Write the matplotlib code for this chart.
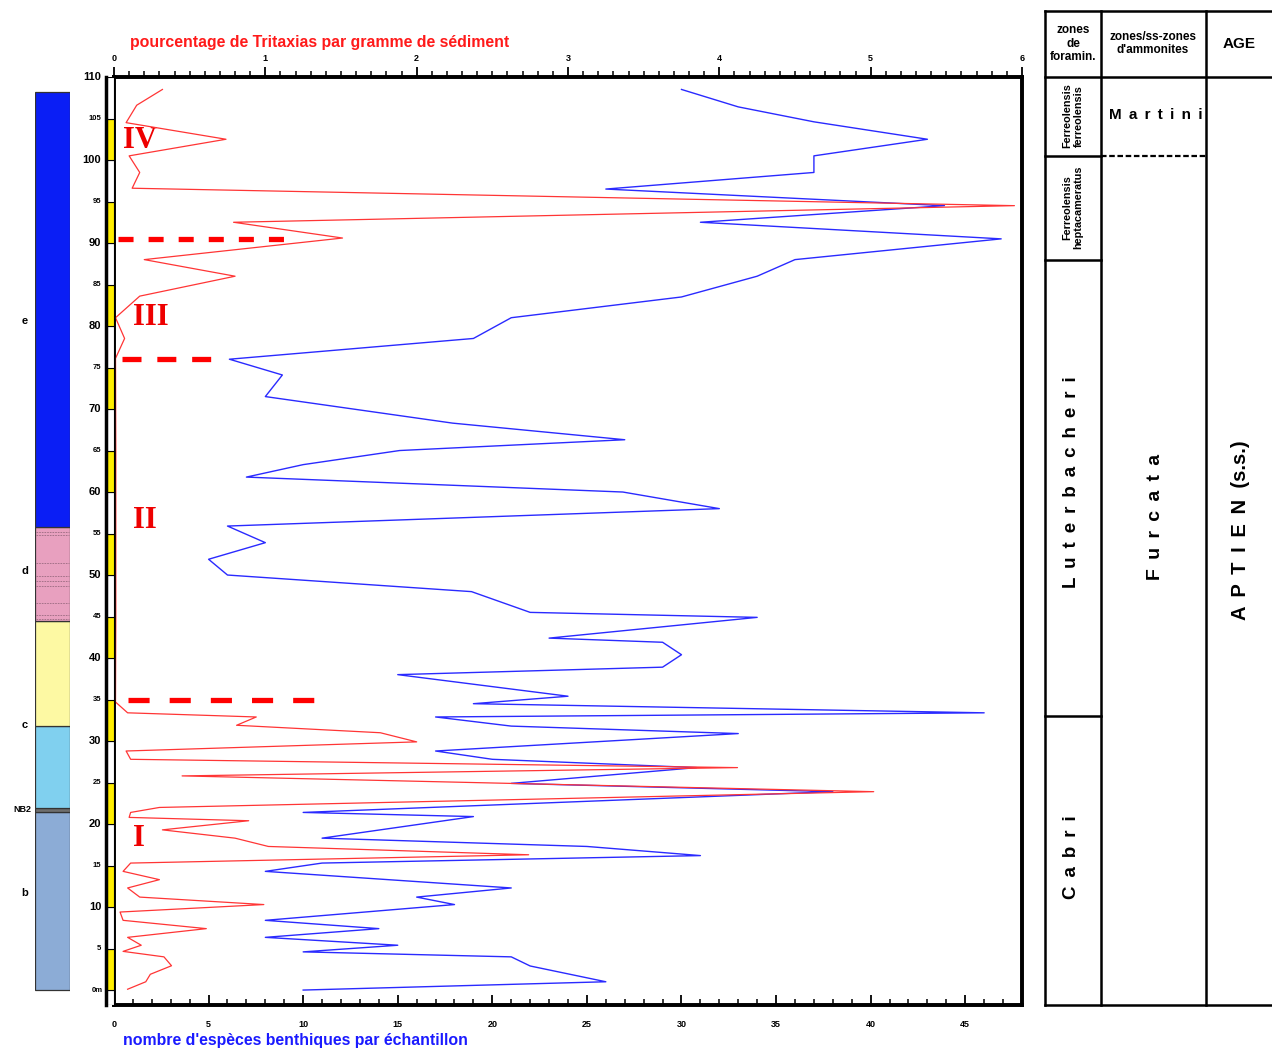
import matplotlib
matplotlib.use("Agg")
from matplotlib import pyplot as plt
from matplotlib.ticker import MultipleLocator

plt.rcParams['font.family'] = ['Liberation Sans', 'DejaVu Sans']
plt.rcParams['font.weight'] = 'bold'

W, H = 1272, 1050

# nombre d'especes benthiques par echantillon (blue)
blue_depth = [108.5, 106.4, 104.6, 102.5, 100.5, 98.5, 96.5, 94.5, 92.5, 90.5,
              88.0, 86.0, 83.5, 81.0, 78.5, 76.0, 74.1, 71.5, 68.3, 66.3,
              65.0, 63.3, 61.8, 60.0, 58.0, 55.9, 53.9, 51.9, 50.0, 48.0,
              45.5, 44.9, 42.4, 41.9, 40.4, 38.9, 38.0, 35.4, 34.5, 33.4,
              32.9, 31.8, 30.9, 28.8, 27.8, 26.8, 24.9, 23.9, 21.4, 20.9,
              18.3, 17.3, 16.2, 15.3, 14.3, 12.3, 11.2, 10.3, 8.4, 7.4,
              6.35, 5.4, 4.6, 4.0, 2.9, 1.0, 0.0]
blue_species = [30.0, 33.0, 37.0, 43.0, 37.0, 37.0, 26.0, 43.9, 31.0, 46.9,
                36.0, 34.0, 30.0, 21.0, 19.0, 6.1, 8.9, 8.0, 17.9, 27.0,
                15.1, 10.0, 7.0, 26.9, 32.0, 6.0, 8.0, 5.0, 6.0, 18.9,
                22.0, 34.0, 23.0, 29.0, 30.0, 29.0, 15.0, 24.0, 19.0, 46.0,
                17.0, 21.0, 33.0, 17.0, 20.0, 30.8, 21.0, 38.0, 10.0, 19.0,
                11.0, 25.0, 31.0, 11.0, 8.0, 21.0, 16.0, 18.0, 8.0, 14.0,
                8.0, 15.0, 10.0, 21.0, 22.0, 26.0, 10.0]

# pourcentage de Tritaxias par gramme de sediment (red)
red_depth = [108.5, 106.6, 104.5, 102.5, 100.5, 98.5, 96.6, 94.5, 92.5, 90.6,
             88.0, 86.0, 83.6, 81.0, 78.5, 76.1, 65.0, 55.0, 45.0, 35.0,
             34.7, 33.4, 32.9, 31.9, 31.0, 29.9, 28.8, 27.8, 26.8, 25.8,
             23.9, 22.0, 21.4, 20.8, 20.4, 19.3, 18.3, 17.3, 16.3, 15.3,
             14.3, 13.3, 12.3, 11.2, 10.3, 9.4, 8.4, 7.4, 6.35, 5.4,
             4.66, 4.0, 2.93, 1.9, 1.0, 0.1]
red_pct = [0.32, 0.15, 0.08, 0.74, 0.10, 0.17, 0.12, 5.95, 0.79, 1.51,
           0.20, 0.80, 0.17, 0.01, 0.07, 0.01, 0.012, 0.012, 0.012, 0.01,
           0.01, 0.09, 0.94, 0.81, 1.76, 2.0, 0.08, 0.11, 4.12, 0.45,
           5.02, 0.30, 0.11, 0.10, 0.89, 0.32, 0.80, 1.02, 2.74, 0.11,
           0.06, 0.30, 0.09, 0.17, 0.99, 0.04, 0.06, 0.61, 0.09, 0.18,
           0.06, 0.33, 0.38, 0.24, 0.21, 0.09]

# lithologic column
litho_bottom = [0, 21.4, 21.9, 31.8, 44.5, 55.8]
litho_top = [21.4, 21.9, 31.8, 44.5, 55.8, 108.2]
litho_colors = ['#8cacd6', '#6e6e6e', '#80d0ef', '#fdf9a3', '#e8a0bf', '#0a1ef5']
litho_labels = ['b', 'NB2', 'c', 'd', 'e']
litho_label_y = [11.7, 21.7, 31.9, 50.5, 80.6]
pink_lines = [55.2, 54.8, 51.4, 49.9, 49.3, 48.7, 46.6, 45.2, 44.7]

# intervals I-IV and their limits
roman = ['I', 'II', 'III', 'IV']
roman_x = [1.0, 1.0, 1.0, 0.5]
roman_y = [18.3, 56.6, 81.0, 102.4]
limit_y = [35.0, 76.0, 90.5]
limit_x0 = [0.74, 0.42, 0.2]
limit_x1 = [10.6, 5.2, 9.05]
limit_dash = [(4.0, 3.8), (3.6, 3.0), (2.85, 2.85)]

# biozones
foram_bounds = [33.0, 88.0, 100.5]
ammo_bound = 100.5

YLIM = (-1.8, 110)
PXU = 8.3          # pixels per metre
YTOP = 110 + 66 / PXU


def box(x0, y0, x1, y1):
    return [x0 / W, 1 - y1 / H, (x1 - x0) / W, (y1 - y0) / H]


def spread(word):
    # letter spacing: space + thin space between letters
    return ' \u2009'.join(word)


fig = plt.figure(figsize=(W / 100, H / 100), dpi=100)

# main plot
ax = fig.add_axes(box(114, 77, 1022, 1005))
ax.set_ylim(*YLIM)
ax.set_xlim(0, 48)
ax.plot(blue_species, blue_depth, color='#2a2aff', lw=1.0)
for y, x0, x1, d in zip(limit_y, limit_x0, limit_x1, limit_dash):
    ax.plot([x0, x1], [y, y], color='#ff0000', lw=3.8, dashes=d,
            solid_capstyle='butt', dash_capstyle='butt')
for t, x, y in zip(roman, roman_x, roman_y):
    ax.text(x, y, t, color='#ee0000', fontsize=22, fontweight='bold',
            family='Liberation Serif', ha='left', va='center')

ax.set_yticks([])
ax.xaxis.set_major_locator(MultipleLocator(5))
ax.xaxis.set_minor_locator(MultipleLocator(1))
ax.tick_params(axis='x', which='major', direction='in', length=7, width=1.3,
               labelsize=6.5, pad=11)
ax.tick_params(axis='x', which='minor', direction='in', length=4, width=1.1)
for s in ax.spines.values():
    s.set_linewidth(2.6)

ax2 = ax.twiny()
ax2.set_xlim(0, 6)
ax2.plot(red_pct, red_depth, color='#ff3535', lw=0.9)
ax2.xaxis.set_major_locator(MultipleLocator(1))
ax2.xaxis.set_minor_locator(MultipleLocator(0.1))
ax2.tick_params(axis='x', which='major', direction='out', length=7, width=1.3,
                labelsize=6.5, pad=3)
ax2.tick_params(axis='x', which='minor', direction='out', length=4, width=1.1)
for s in ax2.spines.values():
    s.set_linewidth(2.6)

# depth labels
ytr = ax.get_yaxis_transform()
for v in range(10, 111, 10):
    ax.text(-0.014, v, str(v), transform=ytr, ha='right', va='center',
            fontsize=8)
for v in range(5, 110, 10):
    ax.text(-0.014, v, str(v), transform=ytr, ha='right', va='center',
            fontsize=5.5)
ax.text(-0.012, 0, '0m', transform=ytr, ha='right', va='center', fontsize=5.5)

fig.text(130 / W, 1 - 43 / H, 'pourcentage de Tritaxias par gramme de sédiment',
         color='#ff1a1a', fontsize=11.4, ha='left', va='center')
fig.text(123 / W, 1 - 1041 / H, "nombre d'espèces benthiques par échantillon",
         color='#1a1aff', fontsize=11.4, ha='left', va='center')

# 5 m strip
axs = fig.add_axes(box(106, 77, 114, 1005))
axs.set_ylim(*YLIM)
axs.set_xlim(0, 1)
axs.axis('off')
axs.bar(0.5, 1.8, bottom=-1.8, width=1, color='white', edgecolor='black', lw=0.8)
for k, b in enumerate(range(0, 110, 5)):
    axs.bar(0.5, 5, bottom=b, width=1, color='#ffee00' if k % 2 == 0 else 'white',
            edgecolor='black', lw=0.8)
axs.plot([0, 0], YLIM, color='black', lw=2.5, clip_on=False)

# lithologic column
axc = fig.add_axes(box(35, 77, 70, 1005))
axc.set_ylim(*YLIM)
axc.set_xlim(0, 1)
axc.axis('off')
for b, t, c in zip(litho_bottom, litho_top, litho_colors):
    axc.bar(0.5, t - b, bottom=b, width=1, color=c, edgecolor='#333333', lw=0.9)
for y in pink_lines:
    axc.plot([0.02, 0.98], [y, y], color='#9a6a80', lw=0.6, ls=(0, (2, 1.2)))
ctr = axc.get_yaxis_transform()
for lab, y in zip(litho_labels, litho_label_y):
    axc.text(-0.3 if lab != 'NB2' else -0.1, y, lab, transform=ctr,
             ha='center' if lab != 'NB2' else 'right', va='center',
             fontsize=8 if lab != 'NB2' else 6.5)

# biozone table
axt = fig.add_axes(box(1045, 11, 1272, 1005))
axt.set_xlim(0, 227)
axt.set_ylim(YLIM[0], YTOP)
axt.axis('off')
lk = dict(color='black', lw=1.8, clip_on=False)
axt.plot([0, 0], [YLIM[0], YTOP], **lk)
axt.plot([56, 56], [YLIM[0], YTOP], **lk)
axt.plot([161, 161], [YLIM[0], YTOP], **lk)
axt.plot([0, 227], [YTOP, YTOP], **lk)
axt.plot([0, 227], [YLIM[0], YLIM[0]], **lk)
axt.plot([0, 227], [110, 110], **lk)
for y in foram_bounds:
    axt.plot([0, 56], [y, y], **lk)
axt.plot([56, 161], [ammo_bound, ammo_bound], color='black', lw=1.6,
         dashes=(2.5, 1.2))

hy = 110 + 33.5 / PXU
axt.text(28, hy, 'zones\nde\nforamin.', ha='center', va='center', fontsize=8.5,
         linespacing=1.15)
axt.text(108, hy, "zones/ss-zones\nd'ammonites", ha='center', va='center',
         fontsize=8.5, linespacing=1.2)
axt.text(194, hy, 'AGE', ha='center', va='center', fontsize=11)
axt.text(28, 105.3, 'Ferreolensis\nferreolensis', rotation=90, ha='center',
         va='center', fontsize=7.8, linespacing=1.1)
axt.text(28, 94.3, 'Ferreolensis\nheptacameratus', rotation=90, ha='center',
         va='center', fontsize=7.8, linespacing=1.1)

axt.text(27, 61.2, spread('Luterbacheri'), rotation=90, ha='center',
         va='center', fontsize=13.5)
axt.text(27, 16.0, spread('Cabri'), rotation=90, ha='center', va='center',
         fontsize=13.5)
axt.text(110, 57.0, spread('Furcata'), rotation=90, ha='center', va='center',
         fontsize=14)
axt.text(195, 55.4, spread('APTIEN') + '  (s.s.)', rotation=90, ha='center',
         va='center', fontsize=14.5)
axt.text(111, 105.4, spread('Martini'), ha='center', va='center', fontsize=11)

fig.savefig('out.png', dpi=100)
